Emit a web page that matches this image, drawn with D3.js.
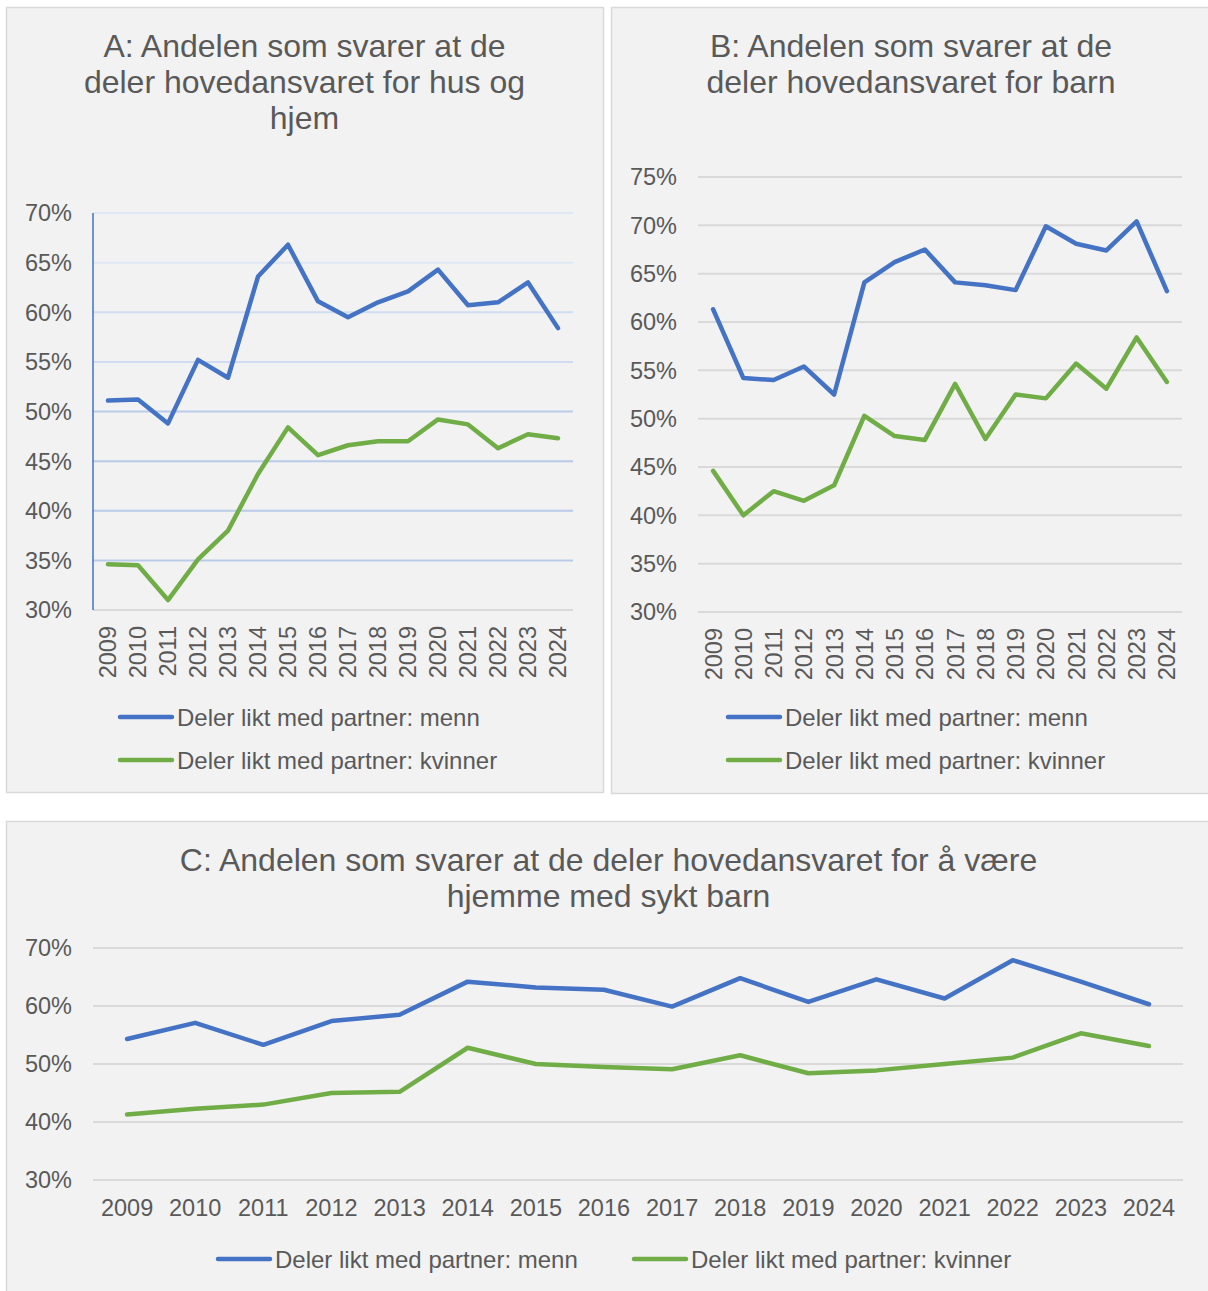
<!DOCTYPE html>
<html>
<head>
<meta charset="utf-8">
<script src="https://cdn.jsdelivr.net/npm/d3@7"></script>
<style>
  html, body { margin: 0; padding: 0; background: #fff; }
  svg text { font-family: "Liberation Sans", Arial, sans-serif; fill: #595959; }
</style>
</head>
<body>
<svg id="chart" width="1208" height="1291"></svg>
<script>
// data (percent)
const years = ['2009', '2010', '2011', '2012', '2013', '2014', '2015', '2016',
  '2017', '2018', '2019', '2020', '2021', '2022', '2023', '2024'];

const husMenn     = [51.1, 51.2, 48.8, 55.2, 53.4, 63.6, 66.8, 61.1, 59.5, 61.0, 62.1, 64.3, 60.7, 61.0, 63.0, 58.4];
const husKvinner  = [34.6, 34.5, 31.0, 35.1, 38.0, 43.7, 48.4, 45.6, 46.6, 47.0, 47.0, 49.2, 48.7, 46.3, 47.7, 47.3];
const barnMenn    = [61.3, 54.2, 54.0, 55.4, 52.5, 64.1, 66.2, 67.5, 64.1, 63.8, 63.3, 69.9, 68.1, 67.4, 70.4, 63.2];
const barnKvinner = [44.6, 40.0, 42.5, 41.5, 43.1, 50.3, 48.2, 47.8, 53.6, 47.9, 52.5, 52.1, 55.7, 53.1, 58.4, 53.8];
const syktMenn    = [54.3, 57.1, 53.3, 57.4, 58.5, 64.2, 63.2, 62.8, 59.9, 64.8, 60.7, 64.6, 61.3, 67.9, 64.2, 60.3];
const syktKvinner = [41.3, 42.3, 43.0, 45.0, 45.2, 52.8, 50.0, 49.5, 49.1, 51.5, 48.4, 48.9, 50.0, 51.1, 55.3, 53.1];

const seriesNames = ['Deler likt med partner: menn', 'Deler likt med partner: kvinner'];
const titleA = ['A: Andelen som svarer at de', 'deler hovedansvaret for hus og', 'hjem'];
const titleB = ['B: Andelen som svarer at de', 'deler hovedansvaret for barn'];
const titleC = ['C: Andelen som svarer at de deler hovedansvaret for å være', 'hjemme med sykt barn'];
const ticksAB = [30, 35, 40, 45, 50, 55, 60, 65, 70, 75];
const ticksC  = [30, 40, 50, 60, 70];

const BLUE = '#4472c4', GREEN = '#70ad47';
const svg = d3.select('#chart');

function drawPanel(o) {
  const g = svg.append('g');
  g.append('rect')
    .attr('x', o.box[0] + 0.5).attr('y', o.box[1] + 0.5)
    .attr('width', o.box[2]).attr('height', o.box[3])
    .attr('fill', '#f2f2f2').attr('stroke', '#d9d9d9').attr('stroke-width', 1.5);

  g.append('g').selectAll('text')
    .data(o.title).join('text')
    .attr('x', o.box[0] + o.box[2] / 2)
    .attr('y', (d, i) => o.titleY + i * 36)
    .attr('text-anchor', 'middle').attr('font-size', '32px')
    .text(d => d);

  const x = d3.scalePoint().domain(years).range([o.x0, o.x1]).padding(0.5);
  const y = d3.scaleLinear().domain(o.yDomain).range([o.y1, o.y0]);
  const ticks = o.ticks.filter(t => t >= o.yDomain[0] && t <= o.yDomain[1]);

  g.append('g').selectAll('line')
    .data(ticks).join('line')
    .attr('x1', o.x0).attr('x2', o.x1)
    .attr('y1', d => y(d)).attr('y2', d => y(d))
    .attr('stroke', d => o.gridColor(d)).attr('stroke-width', 2);

  g.append('g').selectAll('text')
    .data(ticks).join('text')
    .attr('x', o.yLabelX).attr('y', d => y(d)).attr('dy', '0.36em')
    .attr('text-anchor', 'end').attr('font-size', '23.5px')
    .text(d => d + '%');

  // panel A draws its value axis as a blue line
  if (o.yAxisColor) {
    g.append('line')
      .attr('x1', o.x0).attr('x2', o.x0)
      .attr('y1', y(o.yDomain[1])).attr('y2', y(o.yDomain[0]))
      .attr('stroke', o.yAxisColor).attr('stroke-width', 1.5);
  }

  if (o.rotateX) {
    g.append('g').selectAll('text')
      .data(years).join('text')
      .attr('transform', d => `translate(${x(d)},${y(o.yDomain[0]) + 16}) rotate(-90)`)
      .attr('dy', '0.36em').attr('text-anchor', 'end').attr('font-size', '23.5px')
      .text(d => d);
  } else {
    g.append('g').selectAll('text')
      .data(years).join('text')
      .attr('x', d => x(d)).attr('y', y(o.yDomain[0]) + 28)
      .attr('dy', '0.36em').attr('text-anchor', 'middle').attr('font-size', '23.5px')
      .text(d => d);
  }

  const line = d3.line().x((d, i) => x(years[i])).y(d => y(d));
  [[o.men, BLUE], [o.women, GREEN]].forEach(([vals, col]) => {
    g.append('path').datum(vals)
      .attr('d', line).attr('fill', 'none')
      .attr('stroke', col).attr('stroke-width', 4.5)
      .attr('stroke-linejoin', 'round').attr('stroke-linecap', 'round');
  });

  o.legend.forEach((p, i) => {
    g.append('line')
      .attr('x1', p[0]).attr('x2', p[0] + 52).attr('y1', p[1]).attr('y2', p[1])
      .attr('stroke', i === 0 ? BLUE : GREEN).attr('stroke-width', 4.5)
      .attr('stroke-linecap', 'round');
    g.append('text')
      .attr('x', p[0] + 57).attr('y', p[1]).attr('dy', '0.36em')
      .attr('font-size', '24px')
      .text(seriesNames[i]);
  });
}

drawPanel({
  box: [6, 7, 597, 785], title: titleA, titleY: 57,
  x0: 93, x1: 573, y0: 213, y1: 610, yDomain: [30, 70], ticks: ticksAB,
  yLabelX: 72, rotateX: true, yAxisColor: BLUE,
  gridColor: d => d === 30 ? '#d9d9d9' : d >= 65 ? '#dfe7f5' : d >= 55 ? '#d0dcf1' : '#b9cbe9',
  men: husMenn, women: husKvinner,
  legend: [[120, 717], [120, 760]]
});

drawPanel({
  box: [611, 7, 600, 786], title: titleB, titleY: 57,
  x0: 698, x1: 1182, y0: 177, y1: 612, yDomain: [30, 75], ticks: ticksAB,
  yLabelX: 677, rotateX: true,
  gridColor: () => '#d9d9d9',
  men: barnMenn, women: barnKvinner,
  legend: [[728, 717], [728, 760]]
});

drawPanel({
  box: [6, 821, 1205, 475], title: titleC, titleY: 871,
  x0: 93, x1: 1183, y0: 948, y1: 1180, yDomain: [30, 70], ticks: ticksC,
  yLabelX: 72, rotateX: false,
  gridColor: () => '#d9d9d9',
  men: syktMenn, women: syktKvinner,
  legend: [[218, 1259], [634, 1259]]
});
</script>
</body>
</html>
